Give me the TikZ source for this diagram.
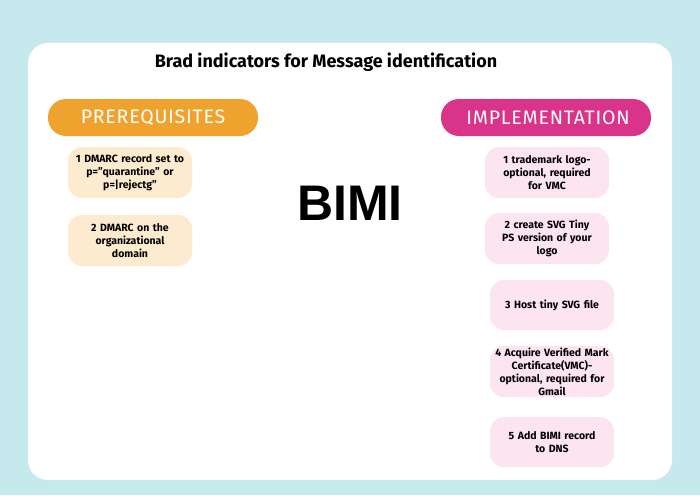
\documentclass[tikz,border=0pt]{standalone}
\usepackage{fontspec}
\setmainfont{Fira Sans}
\newfontfamily\bimifont{Liberation Sans}
\newfontfamily\pillfont[LetterSpace=4]{Fira Sans}
\definecolor{bgteal}{HTML}{C5E9EC}
\definecolor{preor}{HTML}{F0A22E}
\definecolor{impink}{HTML}{D9338A}
\definecolor{prebox}{HTML}{FDEBCF}
\definecolor{imbox}{HTML}{FCE4F0}
\tikzset{
  pill/.style={rounded corners=18pt, text=white, font=\pillfont\fontsize{19.5}{22}\selectfont},
  prestep/.style={fill=prebox, rounded corners=14pt, align=center, text width=124pt,
    font=\bfseries\fontsize{10.5}{13}\selectfont},
  imstep/.style={fill=imbox, rounded corners=14pt, align=center, text width=124pt,
    font=\bfseries\fontsize{10.5}{13}\selectfont},
}
\begin{document}
\begin{tikzpicture}[x=1pt,y=-1pt]
\useasboundingbox (0,0) rectangle (700,495);
\fill[bgteal] (0,0) rectangle (700,495);
\fill[white, rounded corners=20pt] (28,43) rectangle (672,480);
\node[font=\bfseries\fontsize{18}{21}\selectfont] (title) at (326,62) {Brad indicators for Message identification};
% pills
\fill[preor, rounded corners=18pt] (48,99) rectangle (258,136);
\node[pill] (pre) at (153,117.5) {PREREQUISITES};
\fill[impink, rounded corners=18pt] (441,99) rectangle (651,136);
\node[pill] (imp) at (548,117.5) {IMPLEMENTATION};
% BIMI
\node[font=\bimifont\bfseries\fontsize{50}{54}\selectfont] (bimi) at (350,203) {BIMI};
% left boxes
\fill[prebox, rounded corners=14pt] (68,147) rectangle (192,198);
\node[prestep, fill=none] (p1) at (130,172.5) {1 DMARC record set to\\p="quarantine" or\\p=|rejectg"};
\fill[prebox, rounded corners=14pt] (68,215) rectangle (192,266);
\node[prestep, fill=none] (p2) at (130,240.5) {2 DMARC on the\\organizational\\domain};
% right boxes
\fill[imbox, rounded corners=14pt] (485,147) rectangle (609,198);
\node[imstep, fill=none] (i1) at (547,172.5) {1 trademark logo-\\optional, required\\for VMC};
\fill[imbox, rounded corners=14pt] (485,213) rectangle (609,264);
\node[imstep, fill=none] (i2) at (547,238.5) {2 create SVG Tiny\\PS version of your\\logo};
\fill[imbox, rounded corners=14pt] (490,280) rectangle (614,330);
\node[imstep, fill=none] (i3) at (552,305) {3 Host tiny SVG file};
\fill[imbox, rounded corners=14pt] (490,346) rectangle (614,397);
\node[imstep, fill=none] (i4) at (552,371.5) {4 Acquire Verified Mark\\Certificate(VMC)-\\optional, required for\\Gmail};
\fill[imbox, rounded corners=14pt] (490,417) rectangle (614,467);
\node[imstep, fill=none] (i5) at (552,442) {5 Add BIMI record\\to DNS};
\end{tikzpicture}
\end{document}
